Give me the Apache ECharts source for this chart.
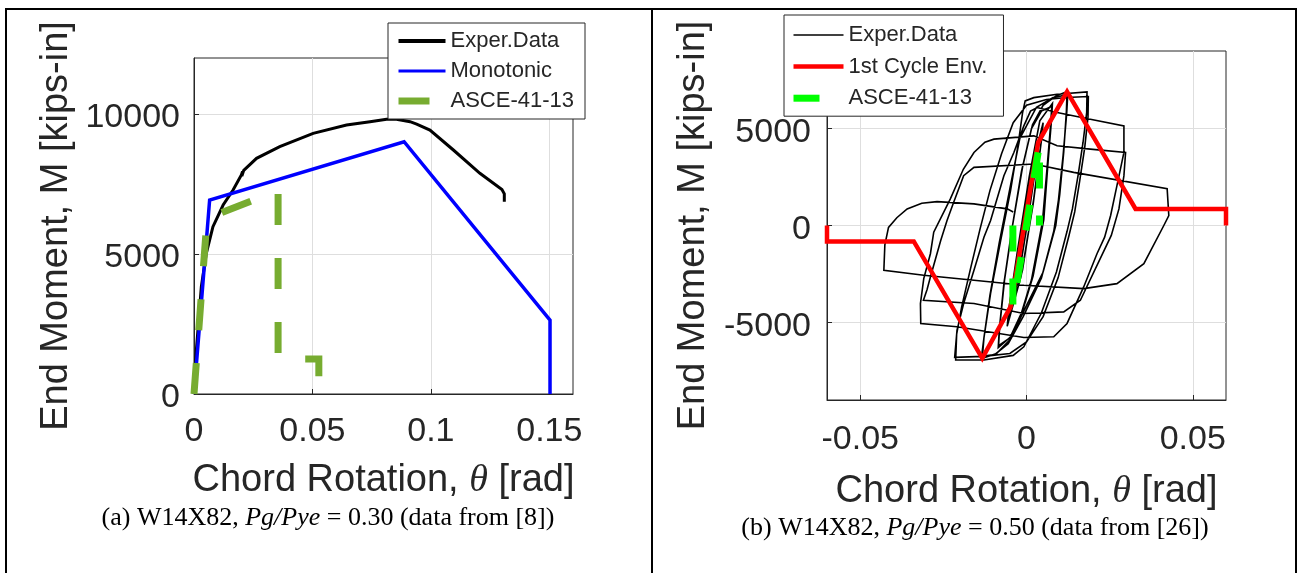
<!DOCTYPE html>
<html>
<head>
<meta charset="utf-8">
<script src="https://cdn.jsdelivr.net/npm/echarts@6/dist/echarts.min.js"></script>
<style>
  html, body { margin: 0; padding: 0; background: #ffffff; }
  #chart { width: 1300px; height: 573px; }
</style>
</head>
<body>
<div id="chart"></div>
<script>
// ---------- Panel (a): W14X82, Pg/Pye = 0.30 ----------
const aXTicks = [0, 0.05, 0.1, 0.15];
const aYTicks = [0, 5000, 10000];
// [chord rotation (rad), end moment (kips-in)]
const aExperData = [
  [0, 0], [0.0010, 1571], [0.0031, 3832], [0.0052, 5024], [0.0080, 5975],
  [0.0123, 6750], [0.0165, 7285], [0.0200, 7821], [0.0205, 7950], [0.0202, 7780],
  [0.0210, 7990], [0.0264, 8417], [0.0362, 8832], [0.0503, 9310], [0.0644, 9607],
  [0.0743, 9725], [0.0813, 9810], [0.0855, 9810], [0.0912, 9725], [0.0940, 9642],
  [0.0996, 9428], [0.1095, 8714], [0.1207, 7882], [0.1300, 7300], [0.1310, 7150],
  [0.1310, 6867]
];
const aMonotonic = [
  [0, 0], [0.0066, 6930], [0.0887, 9010], [0.1503, 2640], [0.1503, 0]
];
const aAsce = [
  [0, 0], [0.0055, 6270], [0.0355, 7270], [0.0355, 1254], [0.0527, 1254], [0.0527, 0]
];

// ---------- Panel (b): W14X82, Pg/Pye = 0.50 ----------
const bXTicks = [-0.05, 0, 0.05];
const bYTicks = [-5000, 0, 5000];
// Hysteresis record, cycle by cycle (continuous loading path)
const bCyclesElastic = [
  [0, 0], [0.0018, 2300], [0.0034, 3900], [0.0030, 3300], [0.0008, 700],
  [-0.0022, -2500], [-0.0041, -3900], [-0.0037, -3300], [-0.0012, -500],
  [0.0016, 2500], [0.0036, 4100], [0.0032, 3500], [0.0006, 500],
  [-0.0026, -2800], [-0.0044, -4000], [-0.0040, -3400], [-0.0012, -300]
];
const bCycles005 = [
  [0.0022, 3300], [0.0049, 5100], [0.0044, 4300], [0.0022, 1400],
  [-0.0012, -2300], [-0.0055, -5000], [-0.0050, -4200], [-0.0024, -1200],
  [0.0010, 2600], [0.0050, 5300], [0.0045, 4400], [0.0020, 1100],
  [-0.0016, -2600], [-0.0058, -5200], [-0.0053, -4300], [-0.0028, -1400]
];
const bCycle0075 = [
  [0.0008, 2500], [0.0040, 5400], [0.0078, 6300], [0.0075, 5400], [0.0065, 3300],
  [0.0052, 300], [0.0020, -2600], [-0.0010, -4300], [-0.0045, -5700], [-0.0085, -6300],
  [-0.0082, -5400], [-0.0068, -3000], [-0.0045, -300], [-0.0015, 2800], [0.0015, 5000]
];
const bCycle0075b = [
  [0.0045, 5900], [0.0076, 6150], [0.0073, 5300], [0.0062, 3000], [0.0048, 200],
  [0.0015, -2800], [-0.0015, -4500], [-0.0050, -5800], [-0.0084, -6200],
  [-0.0081, -5300], [-0.0066, -2800], [-0.0042, 0], [-0.0012, 3000], [0.0018, 5200]
];
const bCycle01 = [
  [0.0050, 6200], [0.0090, 6700], [0.0122, 6900], [0.0120, 5900], [0.0112, 3800],
  [0.0100, 1600], [0.0088, 0], [0.0050, -2400], [-0.0008, -4400], [-0.0050, -5900],
  [-0.0090, -6600], [-0.0133, -6850]
];
const bCycle01b = [
  [-0.0128, -5800], [-0.0110, -3600], [-0.0082, -900], [-0.0050, 1900], [-0.0020, 4500],
  [0.0030, 6100], [0.0080, 6600], [0.0124, 6750], [0.0121, 5800], [0.0110, 3600],
  [0.0096, 1300], [0.0082, -300], [0.0045, -2700], [-0.0010, -4700], [-0.0055, -6100],
  [-0.0095, -6650], [-0.0135, -6750]
];
const bCycle02 = [
  [-0.0128, -5800], [-0.0108, -3500], [-0.0078, -800], [-0.0048, 1800], [-0.0025, 4200],
  [-0.0012, 5800], [-0.0004, 6424], [0.0022, 6594], [0.0092, 6766], [0.0182, 6886],
  [0.0181, 5824], [0.0170, 4282], [0.0155, 2570], [0.0138, 857], [0.0122, -300],
  [0.0090, -2400], [0.0045, -4500], [-0.0008, -6254], [-0.0040, -6700],
  [-0.0128, -6938], [-0.0213, -6938]
];
const bCycle02b = [
  [-0.0210, -5600], [-0.0195, -4200], [-0.0168, -2200], [-0.0140, -200], [-0.0110, 1800],
  [-0.0075, 3700], [-0.0040, 5300], [0.0000, 6200], [0.0060, 6500], [0.0120, 6600],
  [0.0186, 6650], [0.0185, 5600], [0.0175, 4000], [0.0160, 2300], [0.0145, 700],
  [0.0128, -500], [0.0095, -2700], [0.0050, -4700], [0.0000, -6000], [-0.0050, -6600],
  [-0.0130, -6750], [-0.0216, -6800]
];
const bCycle03a = [
  [-0.0209, -5396], [-0.0189, -4024], [-0.0158, -2312], [-0.0128, -601], [-0.0108, 257],
  [-0.0068, 2570], [-0.0038, 3767], [-0.0008, 5139], [0.0012, 5900], [0.0032, 6081],
  [0.0092, 5824], [0.0192, 5481], [0.0293, 5139], [0.0293, 3767], [0.0272, 2056],
  [0.0253, 514], [0.0235, -600], [0.0212, -1456], [0.0172, -3169], [0.0122, -5052],
  [0.0082, -5740], [-0.0008, -5774], [-0.0209, -5225], [-0.0318, -5052]
];
const bCycle03b = [
  [-0.0319, -4024], [-0.0309, -2741], [-0.0289, -1456], [-0.0279, -343], [-0.0229, 1370],
  [-0.0190, 2900], [-0.0158, 3767], [-0.0125, 4300], [-0.0098, 4453], [0.0022, 4624],
  [0.0092, 4111], [0.0192, 3940], [0.0298, 3767], [0.0293, 2570], [0.0278, 857],
  [0.0255, -514], [0.0162, -3854], [0.0112, -4454], [-0.0008, -4540], [-0.0158, -4024],
  [-0.0310, -3854]
];
const bCycle04 = [
  [-0.0299, -3300], [-0.0289, -2655], [-0.0258, -771], [-0.0239, 257], [-0.0219, 1199],
  [-0.0189, 2570], [-0.0158, 2998], [0.0022, 3169], [0.0142, 2741], [0.0423, 1900],
  [0.0428, 514], [0.0413, 0], [0.0353, -1970], [0.0272, -2998], [0.0172, -3255],
  [-0.0008, -3083], [-0.0158, -2827], [-0.0309, -2570], [-0.0429, -2312]
];
const bFinalHalf = [
  [-0.0426, -1000], [-0.0415, -100], [-0.0390, 400], [-0.0359, 857], [-0.0315, 1150],
  [-0.0269, 1233], [-0.0158, 1113], [-0.0058, 857], [-0.0040, 700]
];
const bEnvelope = [
  [-0.06, 0], [-0.06, -822], [-0.0339, -822], [-0.0133, -6850], [-0.0048, -4200],
  [0.0035, 4280], [0.0122, 6900], [0.0328, 857], [0.06, 857], [0.06, 0]
];
const bAsce = [
  [-0.0041, 0], [-0.0041, -840], [-0.0041, -4200], [0, 0],
  [0.0039, 4200], [0.0039, 840], [0.0039, 0]
];

const bExperData = [].concat(
  bCyclesElastic, bCycles005, bCycle0075, bCycle0075b, bCycle01, bCycle01b,
  bCycle02, bCycle02b, bCycle03a, bCycle03b, bCycle04, bFinalHalf
);

// ---------- styling helpers ----------
const SANS = "'Liberation Sans', Arial, Helvetica, sans-serif";
const SERIF = "'Liberation Serif', 'Times New Roman', serif";
const INK = '#262626';

function xAxisFor(gridIndex, min, max, ticks, labelMargin, nameGap) {
  return {
    type: 'value', gridIndex, min, max,
    axisLine: { show: true, onZero: false, lineStyle: { color: INK, width: 1 } },
    axisTick: { show: true, inside: true, length: 5, customValues: ticks, lineStyle: { color: INK } },
    axisLabel: {
      customValues: ticks, formatter: v => String(v), margin: labelMargin,
      color: INK, fontFamily: SANS, fontSize: 34
    },
    splitLine: { show: true, lineStyle: { color: '#dedede', width: 1 } },
    name: '{n|Chord Rotation, }{t|θ}{n| [rad]}',
    nameLocation: 'middle', nameGap, nameMoveOverlap: false,
    nameTextStyle: {
      fontFamily: SANS, fontSize: 38, color: INK,
      rich: {
        n: { fontFamily: SANS, fontSize: 38, color: INK },
        t: { fontFamily: SERIF, fontStyle: 'italic', fontSize: 38, color: INK }
      }
    }
  };
}

function yAxisFor(gridIndex, min, max, ticks, labelMargin, nameGap) {
  return {
    type: 'value', gridIndex, min, max,
    axisLine: { show: true, onZero: false, lineStyle: { color: INK, width: 1 } },
    axisTick: { show: true, inside: true, length: 5, customValues: ticks, lineStyle: { color: INK } },
    axisLabel: {
      customValues: ticks, formatter: v => String(v), margin: labelMargin,
      color: INK, fontFamily: SANS, fontSize: 34,
      verticalAlign: 'top', lineHeight: 8
    },
    splitLine: { show: true, lineStyle: { color: '#dedede', width: 1 } },
    name: 'End Moment, M [kips-in]',
    nameLocation: 'middle', nameRotate: 90, nameGap, nameMoveOverlap: false,
    nameTextStyle: { fontFamily: SANS, fontSize: 38, color: INK }
  };
}

function lineSeries(name, data, color, width, dash, xi) {
  return {
    type: 'line', name, data, xAxisIndex: xi, yAxisIndex: xi,
    symbol: 'none', showSymbol: false, smooth: false, clip: false, silent: true,
    itemStyle: { color },
    lineStyle: { color, width, type: dash || 'solid', cap: 'butt', join: 'miter' },
    emphasis: { disabled: true }
  };
}

// legend keys carry a panel suffix so each panel keeps its own swatch style
function legendFor(items, left, top, padding, itemWidth, itemGap) {
  return {
    data: items.map(([name, width]) => ({ name, lineStyle: { width } })),
    orient: 'vertical', left, top, padding,
    itemWidth, itemHeight: 14, itemGap,
    itemStyle: { color: 'rgba(0,0,0,0)', borderWidth: 0, opacity: 0 },
    lineStyle: { width: 'inherit', type: 'inherit', cap: 'butt' },
    backgroundColor: '#ffffff', borderColor: INK, borderWidth: 1, borderRadius: 0,
    textStyle: { fontFamily: SANS, fontSize: 22, color: INK, lineHeight: 22 },
    formatter: n => n.split('|')[0],
    selectedMode: false, z: 10
  };
}

function caption(x, y, label, ratio, ref) {
  return {
    type: 'text', x, y, silent: true,
    style: {
      text: '{n|' + label + ' W14X82, }{i|Pg/Pye}{n| = ' + ratio + ' (data from [' + ref + '])}',
      textAlign: 'center', textVerticalAlign: 'middle',
      rich: {
        n: { fontFamily: SERIF, fontSize: 26, fill: '#000' },
        i: { fontFamily: SERIF, fontSize: 26, fontStyle: 'italic', fill: '#000' }
      }
    }
  };
}

function rule(x1, y1, x2, y2) {
  return {
    type: 'line', silent: true,
    shape: { x1, y1, x2, y2 },
    style: { stroke: '#000', lineWidth: 2 }
  };
}

const chart = echarts.init(document.getElementById('chart'), null, { renderer: 'canvas' });
chart.setOption({
  animation: false,
  backgroundColor: '#ffffff',
  grid: [
    { left: 194, top: 58, width: 379, height: 336, show: true, borderColor: INK, borderWidth: 1,
      backgroundColor: 'transparent', outerBoundsMode: 'none', containLabel: false },
    { left: 827, top: 51, width: 399, height: 349, show: true, borderColor: INK, borderWidth: 1,
      backgroundColor: 'transparent', outerBoundsMode: 'none', containLabel: false }
  ],
  xAxis: [
    xAxisFor(0, 0, 0.16, aXTicks, 21, 68),
    xAxisFor(1, -0.06, 0.06, bXTicks, 23, 73)
  ],
  yAxis: [
    yAxisFor(0, 0, 12000, aYTicks, 14, 118),
    yAxisFor(1, -9000, 9000, bYTicks, 16, 114)
  ],
  legend: [
    legendFor([['Exper.Data|a', 4], ['Monotonic', 3], ['ASCE-41-13|a', 7]],
      388, 23, [7, 11, 7, 7], 47, 8),
    legendFor([['Exper.Data|b', 1.6], ['1st Cycle Env.', 4.5], ['ASCE-41-13|b', 7]],
      784, 15, [9, 16, 7, 6], 50, 9.6)
  ],
  series: [
    lineSeries('Exper.Data|a', aExperData, '#000000', 3, null, 0),
    lineSeries('Monotonic', aMonotonic, '#0000ff', 3.5, null, 0),
    lineSeries('ASCE-41-13|a', aAsce, '#77ac30', 7, [31, 33], 0),
    lineSeries('Exper.Data|b', bExperData, '#000000', 1.6, null, 1),
    lineSeries('1st Cycle Env.', bEnvelope, '#ff0000', 4.5, null, 1),
    lineSeries('ASCE-41-13|b', bAsce, '#00ff00', 7, [26, 27], 1)
  ],
  graphic: [
    rule(5, 9, 1297, 9),
    rule(6, 9, 6, 573),
    rule(652, 9, 652, 573),
    rule(1296, 9, 1296, 573),
    caption(328, 518, '(a)', '0.30', '8'),
    caption(975, 528, '(b)', '0.50', '26')
  ]
});
</script>
</body>
</html>
